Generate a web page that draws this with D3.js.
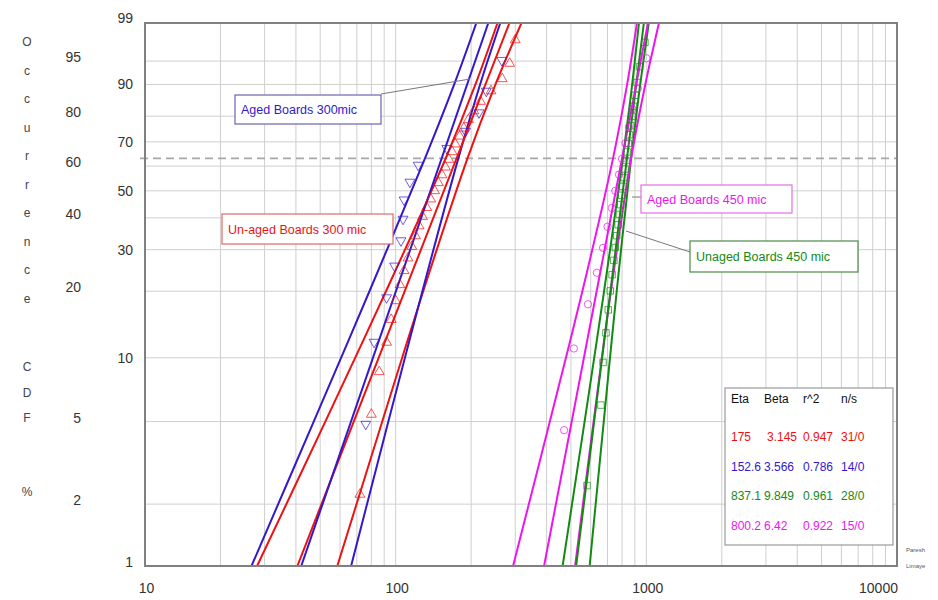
<!DOCTYPE html>
<html>
<head>
<meta charset="utf-8">
<script src="https://cdn.jsdelivr.net/npm/d3@7"></script>
<style>
  body { margin: 0; background: #fff; }
  text { font-family: Arial, "Liberation Sans", sans-serif; }
</style>
</head>
<body>
<div id="main"></div>
<script>
// ticks and grid
const xTicks = [10, 100, 1000, 10000];
const xGrid = [20, 30, 40, 50, 60, 70, 80, 90, 100, 200, 300, 400, 500, 600, 700, 800, 900, 1000,
               2000, 3000, 4000, 5000, 6000, 7000, 8000, 9000];
const yTicksInner = [99, 90, 70, 50, 30, 10, 1];
const yTicksOuter = [95, 80, 60, 40, 20, 5, 2];
const yGrid = [95, 90, 80, 70, 60, 50, 40, 30, 20, 10, 5, 2];
const etaLevel = 63.2;
const yTitleWords = ["Occurrence", "CDF", "%"];

// fit parameters (legend)
const seriesNames = ["Un-aged Boards 300 mic", "Aged Boards 300mic", "Unaged Boards 450 mic", "Aged Boards 450 mic"];
const etaValues = [175, 152.6, 837.1, 800.2];
const betaValues = [3.145, 3.566, 9.849, 6.42];
const r2Values = [0.947, 0.786, 0.961, 0.922];
const nsValues = ["31/0", "14/0", "28/0", "15/0"];

// data points: median rank (%) and time
const redRanks = [2.23, 5.41, 8.60, 11.78, 14.97, 18.15, 21.34, 24.52, 27.71, 30.89, 34.08, 37.26, 40.45, 43.63,
                  46.82, 50.00, 53.18, 56.37, 59.55, 62.74, 65.92, 69.11, 72.29, 75.48, 78.66, 81.85, 85.03,
                  88.22, 91.40, 94.59, 97.77];
const redTimes = [72, 80, 86, 92, 96, 100, 104, 108, 112, 116, 120, 124, 128, 133, 138, 143, 148, 153, 158,
                  163, 168, 173, 180, 187, 195, 205, 218, 240, 266, 285, 300];
const blueRanks = [4.86, 11.81, 18.75, 25.69, 32.64, 39.58, 46.53, 53.47, 60.42, 67.36, 74.31, 81.25, 88.19, 95.14];
const blueTimes = [76, 82, 92, 99, 105, 107, 108, 114, 123, 160, 190, 215, 230, 265];
const greenRanks = [2.46, 5.99, 9.51, 13.03, 16.55, 20.07, 23.59, 27.11, 30.63, 34.15, 37.68, 41.20, 44.72, 48.24,
                    51.76, 55.28, 58.80, 62.32, 65.85, 69.37, 72.89, 76.41, 79.93, 83.45, 86.97, 90.49, 94.01, 97.54];
const greenTimes = [580, 659, 672, 690, 705, 718, 730, 742, 752, 762, 772, 781, 790, 798, 806, 814, 822, 830,
                    838, 847, 856, 866, 877, 889, 902, 918, 940, 987];
const magentaRanks = [4.55, 11.04, 17.53, 24.03, 30.52, 37.01, 43.51, 50.00, 56.49, 62.99, 69.48, 75.97, 82.47, 88.96, 95.45];
const magentaTimes = [470, 514, 585, 635, 672, 700, 728, 752, 778, 800, 826, 852, 880, 925, 1000];

// confidence bounds read at these unreliability levels (%)
const boundLevels = [1, 5, 20, 63.2, 90, 99];
const redLower = [28.0, 52.4, 91.5, 158.3, 208.1, 254.8];
const redUpper = [58.5, 88.4, 128.8, 193.4, 250.1, 317.5];
const blueLower = [26.6, 47.1, 78.6, 130.9, 171.2, 209.8];
const blueUpper = [66.4, 93.5, 127.8, 177.8, 217.2, 261.4];
const greenLower = [463.5, 567.1, 678.3, 805.9, 878.0, 934.5];
const greenUpper = [594.0, 676.2, 761.7, 869.5, 945.5, 1022.5];
const magentaLower = [294.0, 412.1, 555.7, 736.5, 838.2, 917.6];
const magentaUpper = [519.8, 616.0, 722.2, 869.4, 990.6, 1123];

const colors = ["#ee1111", "#3318cc", "#138a13", "#ee14ee"];

class WeibullPlot {
  constructor(config) {
    this.config = config;
    this.svg = null;
    this.xScale = null;
    this.yLin = null;

    this.createSvg();
    this.createScales();
  }

  createSvg() {
    this.svg = d3.select(this.config.div)
      .append("svg")
      .attr("width", this.config.width)
      .attr("height", this.config.height);

    this.svg.append("defs").append("clipPath")
      .attr("id", "clip")
      .append("rect")
        .attr("x", this.config.left)
        .attr("y", this.config.top)
        .attr("width", this.config.right - this.config.left)
        .attr("height", this.config.bottom - this.config.top);
  }

  wb(p) {
    return Math.log(-Math.log(1 - p / 100));
  }

  yPos(p) {
    return this.yLin(this.wb(p));
  }

  createScales() {
    this.xScale = d3.scaleLog().domain([10, 10000]).range([this.config.left, this.config.right]);
    this.yLin = d3.scaleLinear().domain([this.wb(1), this.wb(99)]).range([this.config.bottom, this.config.top]);
  }

  createGrid() {
    let c = this.config;
    this.svg.append("g")
      .selectAll("line")
      .data(xGrid)
      .enter()
      .append("line")
        .attr("x1", d => this.xScale(d))
        .attr("x2", d => this.xScale(d))
        .attr("y1", c.top)
        .attr("y2", c.bottom)
        .attr("stroke", "#cfcfcf")
        .attr("stroke-width", 1);

    this.svg.append("g")
      .selectAll("line")
      .data(yGrid)
      .enter()
      .append("line")
        .attr("x1", c.left)
        .attr("x2", c.right)
        .attr("y1", d => this.yPos(d))
        .attr("y2", d => this.yPos(d))
        .attr("stroke", "#cfcfcf")
        .attr("stroke-width", 1);

    // 63.2% line
    this.svg.append("line")
      .attr("x1", c.left - 5)
      .attr("x2", c.right)
      .attr("y1", this.yPos(etaLevel))
      .attr("y2", this.yPos(etaLevel))
      .attr("stroke", "#a8a8a8")
      .attr("stroke-width", 1.6)
      .attr("stroke-dasharray", "8,5");
  }

  createAxis() {
    let c = this.config;

    let xAxis = d3.axisBottom(this.xScale)
      .tickValues(xTicks)
      .tickFormat(d3.format("d"))
      .tickSize(0)
      .tickPadding(17);

    let xg = this.svg.append("g")
      .attr("transform", `translate(0,${c.bottom})`)
      .call(xAxis);
    xg.select(".domain").remove();
    xg.selectAll("text")
      .attr("font-size", 14)
      .attr("fill", "#333")
      .attr("font-family", "Arial, 'Liberation Sans', sans-serif")
      .attr("dx", (d, i) => i == xTicks.length - 1 ? -19 : 1);

    let innerAxis = d3.axisLeft(this.yLin)
      .tickValues(yTicksInner.map(d => this.wb(d)))
      .tickFormat((d, i) => yTicksInner[i])
      .tickSize(0)
      .tickPadding(12);

    let ig = this.svg.append("g")
      .attr("transform", `translate(${c.left},0)`)
      .call(innerAxis);
    ig.select(".domain").remove();
    ig.selectAll("text")
      .attr("font-size", 14)
      .attr("fill", "#333")
      .attr("font-family", "Arial, 'Liberation Sans', sans-serif")
      .attr("y", (d, i) => (i == 0 ? -5 : (i == yTicksInner.length - 1 ? -4 : 0)));

    let outerAxis = d3.axisLeft(this.yLin)
      .tickValues(yTicksOuter.map(d => this.wb(d)))
      .tickFormat((d, i) => yTicksOuter[i])
      .tickSize(0)
      .tickPadding(64);

    let og = this.svg.append("g")
      .attr("transform", `translate(${c.left},0)`)
      .call(outerAxis);
    og.select(".domain").remove();
    og.selectAll("text")
      .attr("font-size", 14)
      .attr("fill", "#333")
      .attr("font-family", "Arial, 'Liberation Sans', sans-serif")
      .attr("y", -4);

    // stacked letters of the y title
    let letters = [];
    let yy = 46;
    yTitleWords.forEach((w, wi) => {
      w.split("").forEach(ch => {
        letters.push({ch: ch, y: yy});
        yy += wi == 0 ? 28.5 : 25.5;
      });
      yy += wi == 0 ? 40 : 48;
    });
    this.svg.append("g")
      .selectAll("text")
      .data(letters)
      .enter()
      .append("text")
        .attr("x", 27)
        .attr("y", d => d.y)
        .attr("text-anchor", "middle")
        .attr("font-size", 12)
        .attr("fill", "#444")
        .text(d => d.ch);

    this.svg.append("rect")
      .attr("x", c.left)
      .attr("y", c.top)
      .attr("width", c.right - c.left)
      .attr("height", c.bottom - c.top)
      .attr("fill", "none")
      .attr("stroke", "#808080")
      .attr("stroke-width", 2);

    this.svg.append("text")
      .attr("x", 906).attr("y", 552)
      .attr("font-size", 6).attr("fill", "#555")
      .text("Paresh");
    this.svg.append("text")
      .attr("x", 906).attr("y", 568)
      .attr("font-size", 6).attr("fill", "#555")
      .text("Limaye");
  }

  renderBounds() {
    let bounds = [
      [redLower, redUpper], [blueLower, blueUpper], [greenLower, greenUpper], [magentaLower, magentaUpper]
    ];
    let line = d3.line()
      .x(d => this.xScale(d.t))
      .y(d => this.yPos(d.p))
      .curve(d3.curveCatmullRom.alpha(0.5));

    let g = this.svg.append("g").attr("clip-path", "url(#clip)");
    bounds.forEach((pair, si) => {
      pair.forEach(arr => {
        let pts = arr.map((t, i) => ({t: t, p: boundLevels[i]}));
        g.append("path")
          .datum(pts)
          .attr("d", line)
          .attr("fill", "none")
          .attr("stroke", colors[si])
          .attr("stroke-width", 2);
      });
    });
  }

  renderFits() {
    let g = this.svg.append("g").attr("clip-path", "url(#clip)");
    etaValues.forEach((eta, si) => {
      let pts = [1, 99].map(p => ({p: p, t: eta * Math.pow(-Math.log(1 - p / 100), 1 / betaValues[si])}));
      g.append("line")
        .attr("x1", this.xScale(pts[0].t))
        .attr("y1", this.yPos(pts[0].p))
        .attr("x2", this.xScale(pts[1].t))
        .attr("y2", this.yPos(pts[1].p))
        .attr("stroke", colors[si])
        .attr("stroke-width", 2);
    });
  }

  renderPoints() {
    let sets = [
      {ranks: redRanks, times: redTimes, sym: d3.symbolTriangle, rot: 0},
      {ranks: blueRanks, times: blueTimes, sym: d3.symbolTriangle, rot: 180},
      {ranks: greenRanks, times: greenTimes, sym: d3.symbolSquare, rot: 0},
      {ranks: magentaRanks, times: magentaTimes, sym: d3.symbolCircle, rot: 0}
    ];
    sets.forEach((s, si) => {
      let pts = s.times.map((t, i) => ({t: t, p: s.ranks[i]}));
      this.svg.append("g")
        .selectAll("path")
        .data(pts)
        .enter()
        .append("path")
          .attr("d", d3.symbol().type(s.sym).size(42))
          .attr("transform", d => `translate(${this.xScale(d.t)},${this.yPos(d.p)}) rotate(${s.rot})`)
          .attr("fill", "none")
          .attr("stroke", colors[si])
          .attr("stroke-opacity", 0.7)
          .attr("stroke-width", 1);
    });
  }

  renderNotes() {
    let notes = [
      {i: 1, x: 235, y: 95, w: 146, h: 29, border: "#6a64b4", lead: [[381, 94], [470, 79]]},
      {i: 0, x: 222, y: 214, w: 171, h: 30, border: "#e06a6a", lead: null},
      {i: 3, x: 641, y: 185, w: 151, h: 28, border: "#e070e0", lead: [[632, 197], [641, 197]]},
      {i: 2, x: 690, y: 241, w: 168, h: 31, border: "#4a8a4a", lead: [[626, 231], [690, 252]]}
    ];
    notes.forEach(n => {
      if (n.lead) {
        this.svg.append("line")
          .attr("x1", n.lead[0][0]).attr("y1", n.lead[0][1])
          .attr("x2", n.lead[1][0]).attr("y2", n.lead[1][1])
          .attr("stroke", "#777")
          .attr("stroke-width", 1);
      }
      this.svg.append("rect")
        .attr("x", n.x).attr("y", n.y)
        .attr("width", n.w).attr("height", n.h)
        .attr("fill", "#fff")
        .attr("stroke", n.border)
        .attr("stroke-width", 1.2);
      this.svg.append("text")
        .attr("x", n.x + 6)
        .attr("y", n.y + n.h / 2 + 4.5)
        .attr("font-size", 12.5)
        .attr("fill", colors[n.i])
        .text(seriesNames[n.i]);
    });
  }

  renderLegend() {
    let lx = 725, ly = 388;
    this.svg.append("rect")
      .attr("x", lx).attr("y", ly)
      .attr("width", 168).attr("height", 157)
      .attr("fill", "#fff")
      .attr("stroke", "#9a9a9a")
      .attr("stroke-width", 1.2);

    let cols = [731, 764, 803, 841];
    let header = ["Eta", "Beta", "r^2", "n/s"];
    this.svg.append("g")
      .selectAll("text")
      .data(header)
      .enter()
      .append("text")
        .attr("x", (d, i) => cols[i])
        .attr("y", ly + 15)
        .attr("font-size", 12)
        .attr("fill", "#111")
        .text(d => d);

    let rows = etaValues.map((e, i) => [String(e), String(betaValues[i]), String(r2Values[i]), nsValues[i]]);
    rows.forEach((r, ri) => {
      this.svg.append("g")
        .selectAll("text")
        .data(r)
        .enter()
        .append("text")
          .attr("x", (d, i) => cols[i] + (ri == 0 && i == 1 ? 3 : 0))
          .attr("y", ly + 53 + ri * 29.5)
          .attr("font-size", 12)
          .attr("fill", colors[ri])
          .text(d => d);
    });
  }
}

let plotConfig = {div: "#main", width: 938, height: 600, left: 145, right: 897, top: 23, bottom: 566};
let plot = new WeibullPlot(plotConfig);
plot.createGrid();
plot.renderBounds();
plot.renderFits();
plot.renderPoints();
plot.createAxis();
plot.renderNotes();
plot.renderLegend();
</script>
</body>
</html>
